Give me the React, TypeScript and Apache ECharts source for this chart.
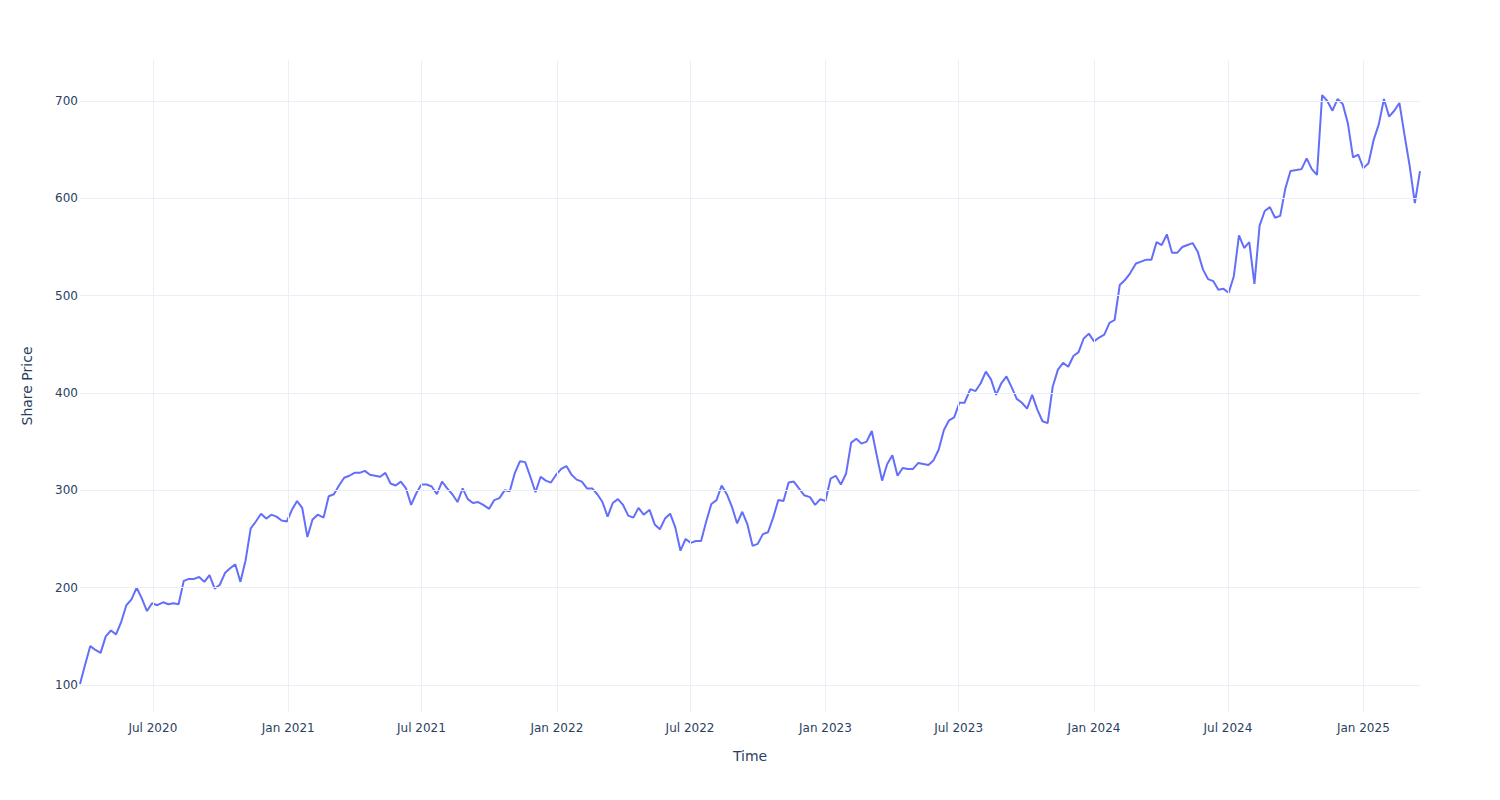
import React, { useEffect, useRef } from "react";
import * as echarts from "echarts";

// Weekly samples of the share price
const startDate = "2020-03-24";
const endDate = "2025-03-19";
const sampleStepDays = 7.032;

const close2020 = [
  101, 121, 140, 136, 133, 150, 156, 152, 165, 182, 188, 200, 189, 176, 184, 182, 185, 183, 184, 183,
  207, 209, 209, 211, 206, 213, 199, 203, 215, 220, 224, 206, 228, 261, 268, 276, 271, 275, 273, 269,
  268,
];
const close2021 = [
  280, 289, 282, 252, 270, 275, 272, 294, 296, 305, 313, 315, 318, 318, 320, 316, 315, 314, 318, 307,
  305, 309, 302, 285, 297, 306, 306, 304, 296, 309, 302, 296, 288, 302, 291, 287, 288, 285, 281, 290,
  292, 300, 299, 318, 330, 329, 314, 298, 314, 310, 308, 316,
];
const close2022 = [
  322, 325, 316, 311, 309, 302, 302, 296, 288, 273, 287, 291, 285, 274, 272, 282, 275, 280, 265, 260,
  271, 276, 262, 238, 250, 246, 248, 248, 268, 286, 290, 305, 296, 283, 266, 278, 265, 243, 245, 255,
  257, 272, 290, 289, 308, 309, 302, 295, 293, 285, 291, 289,
];
const close2023 = [
  312, 315, 306, 317, 349, 353, 348, 350, 361, 335, 310, 327, 336, 315, 323, 322, 322, 328, 327, 326,
  331, 342, 362, 372, 375, 390, 390, 404, 402, 410, 422, 414, 398, 410, 417, 406, 394, 390, 384, 398,
  383, 371, 369, 407, 424, 431, 427, 438, 442, 456, 461, 453,
];
const close2024 = [
  457, 460, 472, 475, 511, 516, 523, 533, 535, 537, 537, 555, 552, 563, 544, 544, 550, 552, 554, 545,
  527, 517, 515, 506, 507, 503, 520, 562, 549, 555, 512, 572, 587, 591, 580, 582, 610, 628, 629, 630,
  641, 630, 624, 706, 700, 690, 702, 697, 677, 642, 645, 631,
];
const close2025 = [636, 660, 676, 702, 684, 690, 698, 665, 633, 595, 628];

const yTicks = [100, 200, 300, 400, 500, 600, 700];
const xTicks = [
  "2020-07-01", "2021-01-01", "2021-07-01", "2022-01-01", "2022-07-01",
  "2023-01-01", "2023-07-01", "2024-01-01", "2024-07-01", "2025-01-01",
];
const monthNames = ["Jan", "Feb", "Mar", "Apr", "May", "Jun", "Jul", "Aug", "Sep", "Oct", "Nov", "Dec"];

const textColor = "#2a3f5f";
const gridColor = "#EBF0F8";
const font = "DejaVu Sans";

export default function App() {
  const ref = useRef<HTMLDivElement>(null);

  useEffect(() => {
    if (!ref.current) return;
    const chart = echarts.init(ref.current, null, { renderer: "svg" });
    const dayMs = 86400000;
    const t0 = Date.parse(startDate + "T00:00:00Z");
    const t1 = Date.parse(endDate + "T00:00:00Z");
    const values = [...close2020, ...close2021, ...close2022, ...close2023, ...close2024, ...close2025];
    const data = values.map((v, i) => [t0 + Math.round(i * sampleStepDays) * dayMs, v]);
    const xTickTs = xTicks.map((d) => Date.parse(d + "T00:00:00Z"));

    chart.setOption({
      animation: false,
      backgroundColor: "#ffffff",
      grid: { left: 80, right: 80, top: 60, bottom: 88 },
      xAxis: {
        type: "value",
        min: t0,
        max: t1,
        scale: true,
        axisLine: { show: false },
        axisTick: { show: false },
        splitLine: { show: false },
        axisLabel: {
          customValues: xTickTs,
          color: textColor,
          fontSize: 12,
          fontFamily: font,
          margin: 10,
          hideOverlap: false,
          showMinLabel: true,
          showMaxLabel: true,
          formatter: (v: number) => {
            const d = new Date(v);
            return monthNames[d.getUTCMonth()] + " " + d.getUTCFullYear();
          },
        },
        name: "Time",
        nameLocation: "middle",
        nameGap: 37,
        nameTextStyle: { color: textColor, fontSize: 14, fontFamily: font },
      },
      yAxis: {
        type: "value",
        min: 72.3,
        max: 742.1,
        scale: true,
        axisLine: { show: false },
        axisTick: { show: false },
        splitLine: { show: false },
        axisLabel: {
          customValues: yTicks,
          color: textColor,
          fontSize: 12,
          fontFamily: font,
          margin: 2,
        },
        name: "Share Price",
        nameLocation: "middle",
        nameGap: 46,
        nameTextStyle: { color: textColor, fontSize: 14, fontFamily: font },
      },
      series: [
        {
          type: "line",
          data: [],
          z: 1,
          silent: true,
          markLine: {
            silent: true,
            symbol: ["none", "none"],
            label: { show: false },
            lineStyle: { color: gridColor, width: 1, type: "solid" },
            data: [
              ...yTicks.map((v) => ({ yAxis: v })),
              ...xTickTs.map((t) => ({ xAxis: t })),
            ],
          },
        },
        {
          type: "line",
          data,
          z: 3,
          showSymbol: false,
          symbol: "none",
          lineStyle: { color: "#636efa", width: 2 },
        },
      ],
    });

    return () => chart.dispose();
  }, []);

  return (
    <div
      ref={ref}
      style={{ position: "absolute", left: 0, top: 0, width: 1500, height: 800 }}
    />
  );
}
